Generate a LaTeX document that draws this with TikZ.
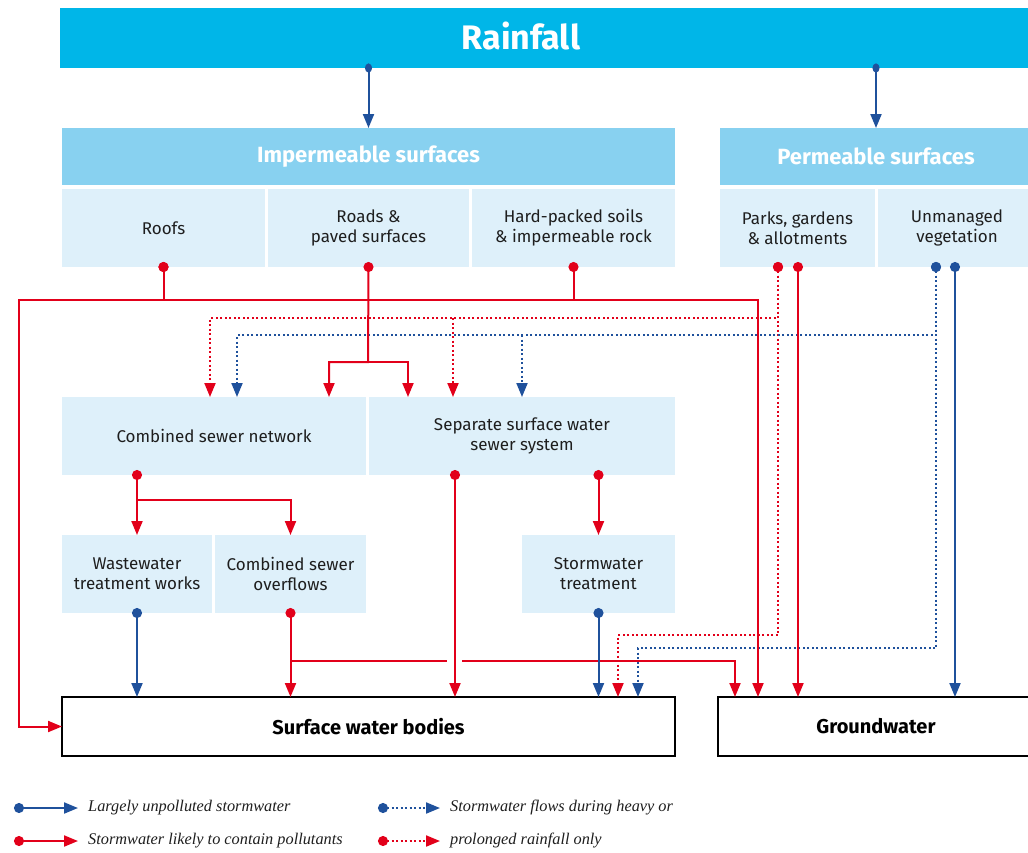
\documentclass[tikz,border=0pt]{standalone}
\usepackage{fontspec}
\setmainfont{Fira Sans}
\newfontfamily\legendfont{Liberation Serif}
\usetikzlibrary{arrows.meta}

\definecolor{rainc}{HTML}{00B6E8}
\definecolor{headc}{HTML}{88D1F0}
\definecolor{cellc}{HTML}{DEF0FA}
\definecolor{redc}{HTML}{E2001A}
\definecolor{bluec}{HTML}{1F519C}
\definecolor{inkc}{HTML}{1E1E1E}

\begin{document}
\begin{tikzpicture}[x=1pt,y=-1pt,
  box/.style={inner sep=0pt, outer sep=0pt, anchor=north west, align=center},
  cell/.style={box, fill=cellc, text=inkc, font=\fontsize{17}{20}\selectfont},
  head/.style={box, fill=headc, text=white, font=\fontsize{22}{26}\selectfont\bfseries, minimum height=57pt},
  sink/.style={box, draw=black, line width=2pt, fill=white, text=black, font=\fontsize{20}{24}\selectfont\bfseries, minimum height=59pt},
  tipend/.style={-{Triangle[length=14pt,width=11pt]}},
  flow/.style={line width=2pt, {Circle[length=10pt]}-{Triangle[length=14pt,width=11pt]}, shorten <=-5pt},
  feed/.style={line width=2pt, {Circle[length=10pt]}-, shorten <=-5pt},
  rflow/.style={flow, draw=redc},
  bflow/.style={flow, draw=bluec},
  rbranch/.style={line width=2pt, tipend, draw=redc},
  bbranch/.style={line width=2pt, tipend, draw=bluec},
  rainflow/.style={line width=2pt, draw=bluec, {Circle[length=9pt,width=7pt]}-{Triangle[length=14pt,width=11pt]}, shorten <=-4.5pt},
  dots/.style={dash pattern=on 2pt off 2.5pt},
  legtext/.style={anchor=west, inner sep=0pt, text=inkc, font=\legendfont\itshape\fontsize{16.3}{19}\selectfont}
]
\useasboundingbox (0,0) rectangle (1028,852);

% rainfall banner
\node[box, fill=rainc, minimum width=990pt, minimum height=60pt] (rain) at (60,8) {};
\node[text=white, font=\fontsize{34}{38}\selectfont\bfseries] (raintext) at (521,36) {Rainfall};

% surface groups
\node[head, minimum width=613pt] (imp) at (62,128) {Impermeable surfaces};
\node[head, minimum width=312pt] (perm) at (720,128) {Permeable surfaces};

\node[cell, minimum width=203pt, minimum height=78pt] (roofs) at (62,189) {Roofs};
\node[cell, minimum width=201pt, minimum height=78pt] (roads) at (268,189) {Roads \&\\paved surfaces};
\node[cell, minimum width=203pt, minimum height=78pt] (hard) at (472,189) {Hard-packed soils\\\& impermeable rock};
\node[cell, minimum width=155pt, minimum height=78pt] (parks) at (720,189) {Parks, gardens\\\& allotments};
\node[cell, minimum width=158pt, minimum height=78pt] (unman) at (878,189) {Unmanaged\\vegetation};

% sewer systems
\node[cell, minimum width=304pt, minimum height=78pt] (cn) at (62,397) {Combined sewer network};
\node[cell, minimum width=306pt, minimum height=78pt] (ssw) at (369,397) {Separate surface water\\sewer system};

\node[cell, minimum width=150pt, minimum height=78pt] (wtw) at (62,535) {Wastewater\\treatment works};
\node[cell, minimum width=151pt, minimum height=78pt] (cso) at (215,535) {Combined sewer\\overflows};
\node[cell, minimum width=153pt, minimum height=78pt] (st) at (522,535) {Stormwater\\treatment};

% receiving waters
\node[sink, minimum width=613pt] (swb) at (62,697) {Surface water bodies};
\node[sink, minimum width=316pt] (gw) at (718,697) {Groundwater};

% rainfall onto surfaces
\draw[rainflow] (rain.south -| imp.north) -- (imp.north);
\draw[rainflow] (rain.south -| perm.north) -- (perm.north);

% heavy-rain flows from permeable surfaces
\draw[rflow, dots] (778,0 |- parks.south) |- (210,318) -- (210,0 |- cn.north);
\draw[rbranch, dots] (453,318) -- (453,0 |- ssw.north);
\draw[rflow, dots] (778,0 |- parks.south) |- (618,635) -- (618,0 |- swb.north);

\draw[bflow, dots] (936,0 |- unman.south) |- (237,335) -- (237,0 |- cn.north);
\draw[bbranch, dots] (522,335) -- (522,0 |- ssw.north);
\draw[bflow, dots] (936,0 |- unman.south) |- (638,648) -- (638,0 |- swb.north);

% runoff from impermeable surfaces
\draw[rflow] (roofs.south) |- (19,300) |- (swb.west);
\draw[rflow] (roofs.south) |- (758,300) -- (758,0 |- gw.north);
\draw[feed, draw=redc] (hard.south) -- (hard.south |- 0,300);
\draw[rflow] (roads.south) -- (368,362) -| (329,0 |- cn.north);
\draw[rbranch] (368,362) -| (408,0 |- ssw.north);

% infiltration from permeable surfaces
\draw[rflow] (798,0 |- parks.south) -- (798,0 |- gw.north);
\draw[bflow] (955,0 |- unman.south) -- (955,0 |- gw.north);

% sewer networks
\draw[rflow] (cn.south -| wtw.north) -- (wtw.north);
\draw[rbranch] (137,500) -| (cso.north);
\draw[rflow] (ssw.south -| st.north) -- (st.north);

% overflows (line broken where it crosses the surface water sewer)
\draw[rflow] (cso.south) -- (cso.south |- swb.north);
\draw[rbranch] (cso.south |- 0,661) -- (447,661) (462,661) -| (735,0 |- gw.north);
\draw[rflow] (455,0 |- ssw.south) -- (455,0 |- swb.north);

% treated discharges
\draw[bflow] (wtw.south) -- (wtw.south |- swb.north);
\draw[bflow] (st.south) -- (st.south |- swb.north);

% key
\node[legtext] (k1) at (88,808) {Largely unpolluted stormwater};
\node[legtext] (k2) at (88,841) {Stormwater likely to contain pollutants};
\node[legtext] (k3) at (450,808) {Stormwater flows during heavy or};
\node[legtext] (k4) at (450,841) {prolonged rainfall only};
\coordinate (k1s) at (19,808);
\coordinate (k2s) at (19,841);
\coordinate (k3s) at (383,808);
\coordinate (k4s) at (383,841);
\draw[bflow, shorten >=10pt] (k1s) -- (k1.west);
\draw[rflow, shorten >=10pt] (k2s) -- (k2.west);
\draw[bflow, dots, shorten >=10pt] (k3s) -- (k3.west);
\draw[rflow, dots, shorten >=10pt] (k4s) -- (k4.west);
\end{tikzpicture}
\end{document}
